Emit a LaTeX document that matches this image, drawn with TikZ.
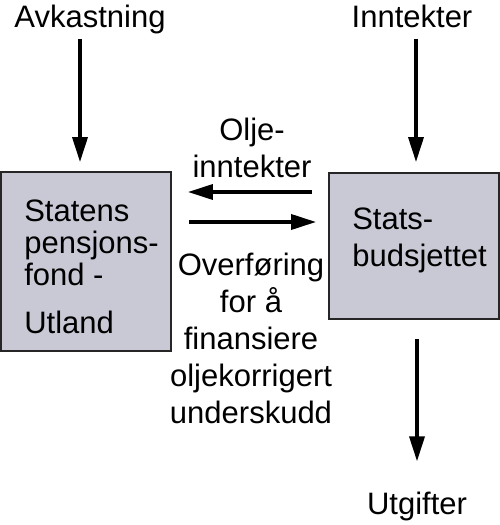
\documentclass[tikz,border=0pt]{standalone}
\usepackage{fontspec}
\setmainfont{Liberation Sans}
\usetikzlibrary{arrows.meta}
\definecolor{boksgraa}{RGB}{200,201,212}
\begin{document}
	\begin{tikzpicture}[x=1bp, y=-1bp,
		tekst/.style={inner sep=0pt, align=center, font=\fontsize{31bp}{37bp}\selectfont},
		boks/.style={draw=black!85, line width=1.8bp, fill=boksgraa, minimum width=170bp},
		pil/.style={line width=3.5bp, -{Triangle[length=25bp, width=15bp]}}]
		\useasboundingbox (0,0) rectangle (500,525);
		\node[tekst] (avk) at (90, 19.3) {Avkastning};
		\node[tekst] (innt) at (412, 16) {Inntekter};
		\node[tekst] (utg) at (417, 506) {Utgifter};
		\node[boks, minimum height=179bp] (fond) at (86, 261.5) {};
		\node[tekst, align=left, anchor=west, font=\fontsize{31bp}{32bp}\selectfont] (fondtekst) at ([xshift=24bp, yshift=-5.5bp]fond.west)
		{Statens\\pensjons-\\fond -\\[16bp]Utland};
		\node[boks, minimum height=146bp] (sb) at (414, 246) {};
		\node[tekst, align=left, anchor=west] (sbtekst) at ([xshift=24bp, yshift=5.3bp]sb.west) {Stats-\\budsjettet};
		\node[tekst] (olje) at (252, 147.5) {Olje-\\inntekter};
		\node[tekst] (overf) at (251, 338.5) {Overføring\\for å\\finansiere\\oljekorrigert\\underskudd};
		\draw[pil, shorten <=5bp, shorten >=9bp] ([xshift=-10bp]avk.south) -- ([xshift=-10bp]avk.south |- fond.north);
		\draw[pil, shorten <=11bp, shorten >=10bp] ([xshift=4bp]innt.south) -- ([xshift=4bp]innt.south |- sb.north);
		\draw[pil, shorten <=19bp, shorten >=30bp] (sb.south -| utg.north) -- (utg.north);
		\draw[pil, shorten <=16bp, shorten >=16bp] (sb.west |- 0,192) -- (fond.east |- 0,192);
		\draw[pil, shorten <=17bp, shorten >=12bp] (fond.east |- 0,222) -- (sb.west |- 0,222);
	\end{tikzpicture}
\end{document}
